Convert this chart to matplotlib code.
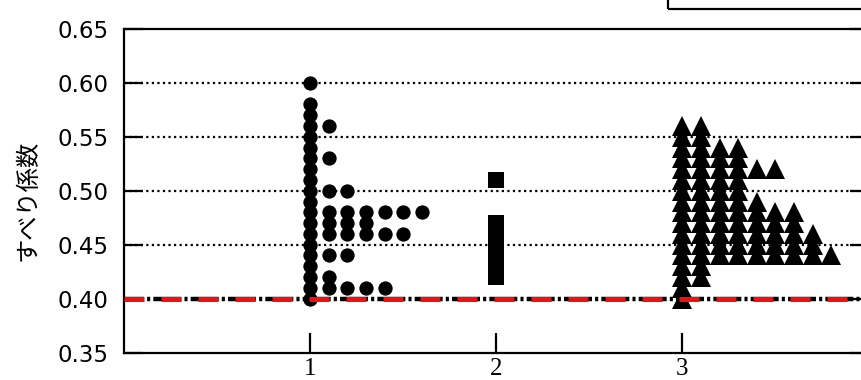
import matplotlib
matplotlib.use("Agg")
import matplotlib.pyplot as plt
from matplotlib.patches import Rectangle

# ---- data ----
circle_y = [0.40, 0.41, 0.42, 0.43, 0.44, 0.45, 0.46, 0.47, 0.48, 0.49,
            0.50, 0.51, 0.52, 0.53, 0.54, 0.55, 0.56, 0.57, 0.58, 0.60]
circle_n = [1, 5, 2, 1, 3, 1, 6, 4, 7, 1,
            3, 1, 1, 2, 1, 1, 2, 1, 1, 1]

square_y = [0.42, 0.43, 0.44, 0.45, 0.46, 0.47, 0.51]
square_n = [1, 1, 1, 1, 1, 1, 1]

tri_y = [0.40, 0.41, 0.42, 0.43, 0.44, 0.45, 0.46, 0.47, 0.48,
         0.49, 0.50, 0.51, 0.52, 0.53, 0.54, 0.55, 0.56]
tri_n = [1, 1, 2, 2, 9, 8, 8, 7, 7,
         5, 4, 4, 6, 4, 4, 2, 2]

group_x = [1, 2, 3]
x_ticklabels = ["1", "2", "3"]
y_ticks = [0.35, 0.40, 0.45, 0.50, 0.55, 0.60, 0.65]
grid_levels = [0.45, 0.50, 0.55, 0.60]
limit_value = 0.40
ylabel = "すべり係数"

STEP = 0.1  # horizontal step between stacked duplicates


def stack(gx, ys, ns):
    xs, yy = [], []
    for y, n in zip(ys, ns):
        for k in range(n):
            xs.append(gx + k * STEP)
            yy.append(y)
    return xs, yy


W, H = 861, 380
fig = plt.figure(figsize=(W / 100, H / 100), dpi=100)
ax = fig.add_axes([124 / W, 27.5 / H, (868.5 - 124) / W, (352.5 - 29) / H])
ax.set_xlim(0, 4)
ax.set_ylim(0.35, 0.65)

for s in ax.spines.values():
    s.set_linewidth(1.6)
    s.set_color("black")

# grid lines (dotted)
for g in grid_levels:
    ax.axhline(g, color="black", lw=1.6, linestyle=(0, (1, 1.5)), zorder=1)

# black dash-dot line at the limit
ax.axhline(limit_value, color="black", lw=3.2,
           linestyle=(1.8, (6.3, 0.7, 0.7, 0.7)), zorder=2)

# markers
cx, cy = stack(group_x[0], circle_y, circle_n)
ax.plot(cx, cy, "o", ms=10.3, color="black", mew=0, zorder=3)
sx, sy = stack(group_x[1], square_y, square_n)
ax.plot(sx, sy, "s", ms=11.5, color="black", mew=0, zorder=3)
tx, ty = stack(group_x[2], tri_y, tri_n)
ax.plot(tx, ty, "^", ms=14.2, color="black", mew=0, zorder=3)

# red dashed limit line on top
ax.axhline(limit_value, color="#f01010", lw=3.6,
           linestyle=(0, (4, 3.4)), zorder=4)

# ticks
ax.set_yticks(y_ticks)
ax.set_yticklabels([f"{v:.2f}" for v in y_ticks])
ax.tick_params(axis="y", direction="in", length=14, width=1.6,
               left=True, right=True, labelsize=16.5, pad=11)
ax.set_xticks(group_x)
ax.set_xticklabels(x_ticklabels, fontfamily="Liberation Serif", fontsize=18)
ax.tick_params(axis="x", direction="in", length=14.5, width=1.6,
               top=False, pad=4)

# y label
fig.text(28 / W, 1 - 200 / H, ylabel, rotation=90, ha="center", va="center",
         fontsize=17.5, family=["Noto Sans CJK JP", "DejaVu Sans"])

# partial legend frame at the top right
fig.add_artist(Rectangle((668 / W, 1 - 9 / H), 0.5, 0.2,
                         transform=fig.transFigure, fill=False,
                         lw=1.6, edgecolor="black", clip_on=False))

fig.savefig("out.png", dpi=100)
